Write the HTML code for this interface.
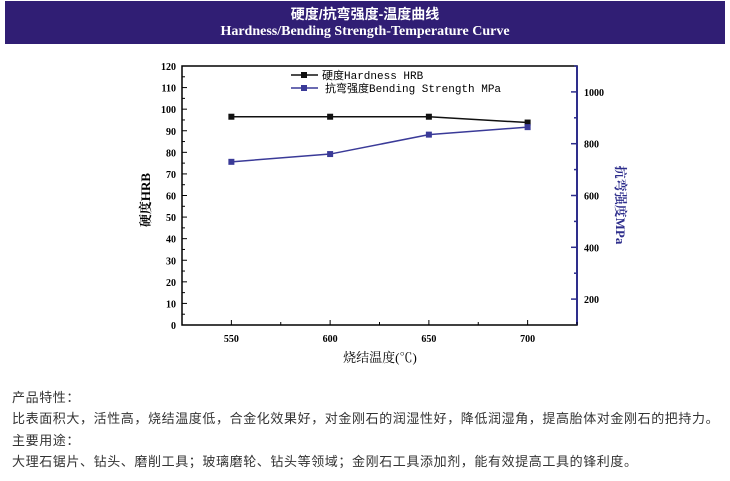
<!DOCTYPE html>
<html><head><meta charset="utf-8"><style>
body{margin:0;width:730px;height:481px;background:#fff;overflow:hidden;position:relative;font-family:"Liberation Serif","Noto Serif CJK SC",serif}
#hdr{position:absolute;left:5px;top:1px;width:720px;height:43px;background:#301e74;color:#fff;text-align:center;font-weight:bold}
#hdr .l1{position:absolute;top:3px;width:100%;font-size:14px;font-family:"Liberation Sans","Noto Sans CJK SC",sans-serif}
#hdr .l2{position:absolute;top:23px;width:100%;font-size:14px}
.txt{position:absolute;left:12px;font-size:13px;letter-spacing:0.6px;color:#333;font-family:"Liberation Sans","Noto Sans CJK SC",sans-serif;white-space:nowrap}
svg{position:absolute;left:0;top:0}
</style></head><body>
<div id="hdr"><div class="l1">硬度/抗弯强度-温度曲线</div><div class="l2">Hardness/Bending Strength-Temperature Curve</div></div>
<svg id="chart" width="730" height="481"></svg>
<div class="txt" style="top:387px">产品特性：</div>
<div class="txt" style="top:408px">比表面积大，活性高，烧结温度低，合金化效果好，对金刚石的润湿性好，降低润湿角，提高胎体对金刚石的把持力。</div>
<div class="txt" style="top:430px">主要用途：</div>
<div class="txt" style="top:451px">大理石锯片、钻头、磨削工具；玻璃磨轮、钻头等领域；金刚石工具添加剂，能有效提高工具的锋利度。</div>
<script>
const temps=[550,600,650,700];
const hardness=[96.5,96.5,96.5,93.8];
const bending=[730,760,835,864];
const leftTicks=[0,10,20,30,40,50,60,70,80,90,100,110,120];
const rightTicks=[200,400,600,800,1000];
const L=182,R=577,T=66,B=325;
const x=v=>L+(v-525)/(725-525)*(R-L);
const yl=v=>B-v/120*(B-T);
const yr=v=>B-(v-100)/(1100-100)*(B-T);
const svg=document.getElementById('chart');const NS='http://www.w3.org/2000/svg';
function mk(t,a,p){const e=document.createElementNS(NS,t);for(const k in a)e.setAttribute(k,a[k]);(p||svg).appendChild(e);return e;}
const F='"Liberation Serif","Noto Serif CJK SC",serif';
let e;
e=mk('rect',{x:L,y:T,width:R-L,height:B-T,fill:'none',stroke:'#000','stroke-width':1.5});


e=mk('line',{x1:R,y1:T,x2:R,y2:B,stroke:'#2e2e8c','stroke-width':2});


leftTicks.forEach(v=>{mk('line',{x1:L,y1:yl(v),x2:L+5,y2:yl(v),stroke:'#000'});
e=mk('text',{x:L-6,y:yl(v)+4,'text-anchor':'end','font-size':10,'font-weight':'bold','font-family':F});e.textContent=v;


if(v<120)mk('line',{x1:L,y1:yl(v+5),x2:L+3,y2:yl(v+5),stroke:'#000'});});
rightTicks.forEach(v=>{mk('line',{x1:R,y1:yr(v),x2:R-6,y2:yr(v),stroke:'#2e2e8c','stroke-width':1.5});
mk('line',{x1:R,y1:yr(v+100),x2:R-3,y2:yr(v+100),stroke:'#2e2e8c','stroke-width':1.5});
e=mk('text',{x:R+7,y:yr(v)+4,'font-size':10,'font-weight':'bold','font-family':F});e.textContent=v;

});
temps.forEach(v=>{mk('line',{x1:x(v),y1:B,x2:x(v),y2:B-5,stroke:'#000'});mk('line',{x1:x(v+25),y1:B,x2:x(v+25),y2:B-3,stroke:'#000'});
e=mk('text',{x:x(v),y:B+17,'text-anchor':'middle','font-size':10,'font-weight':'bold','font-family':F});e.textContent=v;

});
function series(vals,fy,col,name){
e=mk('polyline',{points:vals.map((v,i)=>x(temps[i])+','+fy(v)).join(' '),fill:'none',stroke:col,'stroke-width':1.5});


vals.forEach((v,i)=>{e=mk('rect',{x:x(temps[i])-3,y:fy(v)-3,width:6,height:6,fill:col});

});}
series(hardness,yl,'#111','hardness');
series(bending,yr,'#3a3a98','bending');
mk('line',{x1:291,y1:75,x2:318,y2:75,stroke:'#111','stroke-width':1.5});mk('rect',{x:301,y:72,width:6,height:6,fill:'#111'});
e=mk('text',{x:322,y:79,'font-size':11,'font-family':'"Liberation Mono","Noto Sans CJK SC",monospace'});e.textContent='硬度Hardness HRB';


mk('line',{x1:291,y1:88,x2:318,y2:88,stroke:'#3a3a98','stroke-width':1.5});mk('rect',{x:301,y:85,width:6,height:6,fill:'#3a3a98'});
e=mk('text',{x:325,y:92,'font-size':11,'font-family':'"Liberation Mono","Noto Sans CJK SC",monospace'});e.textContent='抗弯强度Bending Strength MPa';


e=mk('text',{x:380,y:362,'text-anchor':'middle','font-size':13,'font-family':F});e.textContent='烧结温度(℃)';


e=mk('text',{x:150,y:200,'text-anchor':'middle','font-size':13,'font-weight':'bold','font-family':F,transform:'rotate(-90 150 200)'});e.textContent='硬度HRB';


e=mk('text',{x:616,y:205,'text-anchor':'middle','font-size':13,'font-weight':'bold',fill:'#2e2e8c','font-family':F,transform:'rotate(90 616 205)'});e.textContent='抗弯强度MPa';


</script>
</body></html>
